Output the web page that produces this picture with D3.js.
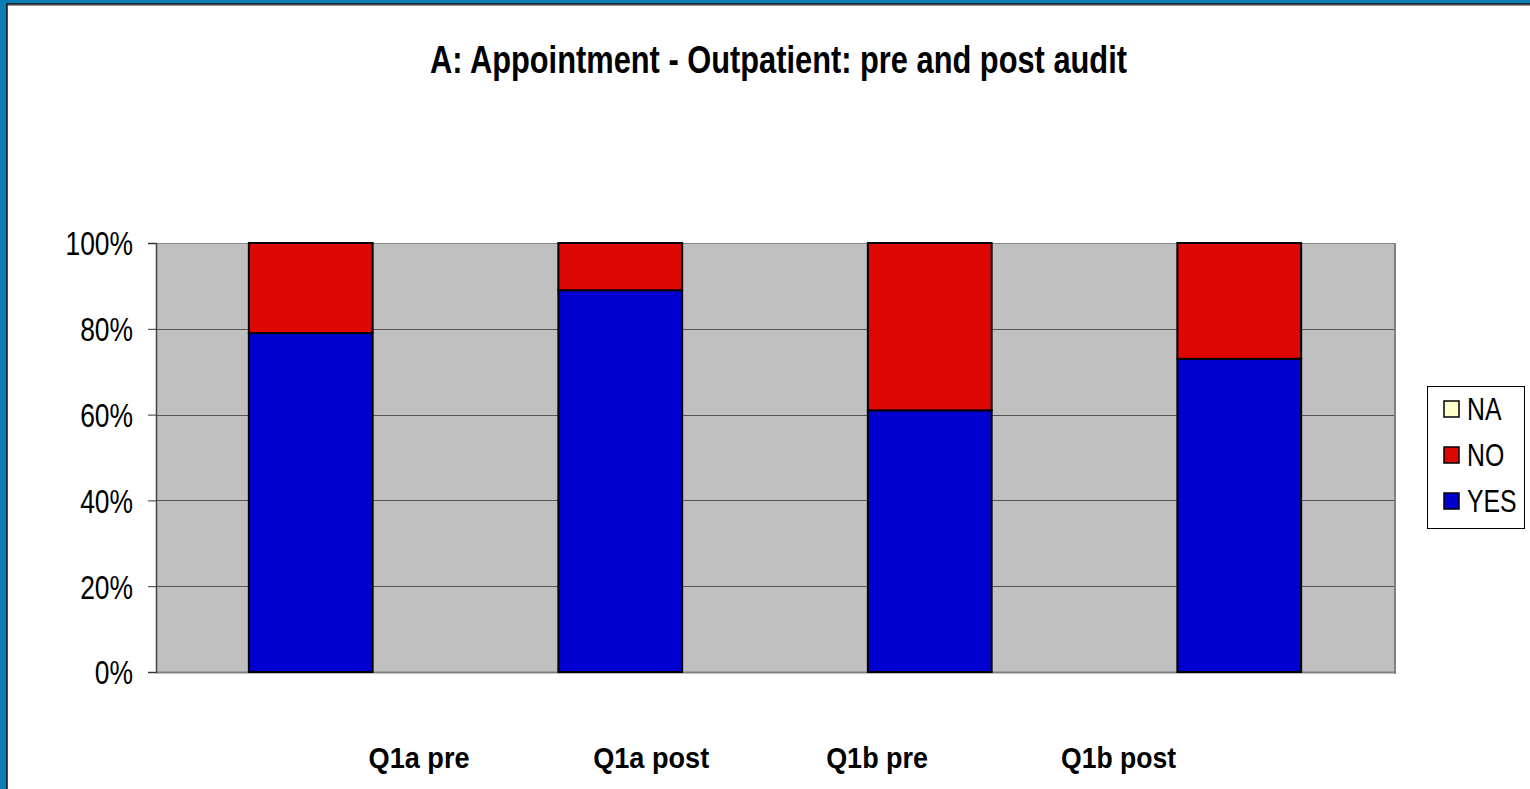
<!DOCTYPE html>
<html>
<head>
<meta charset="utf-8">
<script src="https://cdn.jsdelivr.net/npm/d3@7/dist/d3.min.js"></script>
<style>
    html, body { margin: 0; padding: 0; background: #0e7db2; overflow: hidden; }
    svg { display: block; }
    .narrow { font-family: "Liberation Sans Narrow", "Arial Narrow", "Liberation Sans", Arial, sans-serif; }
</style>
</head>
<body>
<svg id="chart" width="1530" height="789"></svg>
<script>
// chart values
var categories = ["Q1a pre", "Q1a post", "Q1b pre", "Q1b post"];
var seriesNames = ["YES", "NO", "NA"];
var yesValues = [79, 89, 61, 73];
var noValues = [21, 11, 39, 27];
var naValues = [0, 0, 0, 0];
var yTicks = [0, 20, 40, 60, 80, 100];
// x label centres drift left of the bars in the original, offsets in category units
var labelOffsets = [0.35, 0.1, -0.17, -0.39];

var colors = { YES: "#0000d0", NO: "#dd0704", NA: "#ffffcc" };
var squeeze = 0.8; // no narrow face installed, so squash horizontally

var svg = d3.select("#chart");
var width = 1530, height = 789;

// white panel with dark edge
svg.append("rect").attr("x", 0).attr("y", 0).attr("width", width).attr("height", height).attr("fill", "#0e7db2");
svg.append("rect").attr("x", 7).attr("y", 4).attr("width", width).attr("height", height)
    .attr("fill", "#fff").attr("stroke", "#111").attr("stroke-width", 1.5);
svg.append("line").attr("x1", 8).attr("x2", width).attr("y1", 5.5).attr("y2", 5.5)
    .attr("stroke", "#999").attr("stroke-width", 1);

var margin = { left: 156, right: 1394, top: 243, bottom: 672 };

var x = d3.scaleBand().domain(categories).range([margin.left, margin.right]).paddingInner(0.6).paddingOuter(0.3);
var xCat = d3.scaleBand().domain(categories).range([margin.left, margin.right]);
var y = d3.scaleLinear().domain([0, 100]).range([margin.bottom, margin.top]);

// plot background
svg.append("rect")
    .attr("x", margin.left).attr("y", margin.top)
    .attr("width", margin.right - margin.left).attr("height", margin.bottom - margin.top)
    .attr("fill", "#c0c0c0");

// gridlines
svg.append("g").selectAll("line").data(yTicks.slice(1)).enter().append("line")
    .attr("x1", margin.left).attr("x2", margin.right)
    .attr("y1", function (d) { return Math.round(y(d)) + 0.5; })
    .attr("y2", function (d) { return Math.round(y(d)) + 0.5; })
    .attr("stroke", function (d) { return d == 100 ? "#888" : "#555"; })
    .attr("stroke-width", 1);

// plot border shadow, right and bottom
svg.append("line").attr("x1", margin.right + 1).attr("x2", margin.right + 1)
    .attr("y1", margin.top).attr("y2", margin.bottom + 2)
    .attr("stroke", "#808080").attr("stroke-width", 2);
svg.append("line").attr("x1", margin.left).attr("x2", margin.right + 2)
    .attr("y1", margin.bottom + 0.5).attr("y2", margin.bottom + 0.5)
    .attr("stroke", "#808080").attr("stroke-width", 2);

// stacked bars
var table = categories.map(function (c, i) {
    return { cat: c, YES: yesValues[i], NO: noValues[i], NA: naValues[i] };
});
var stacked = d3.stack().keys(seriesNames)(table);

svg.append("g").selectAll("g").data(stacked).enter().append("g")
    .attr("fill", function (s) { return colors[s.key]; })
    .selectAll("rect").data(function (s) { return s.filter(function (d) { return d[1] - d[0] > 0; }); })
    .enter().append("rect")
    .attr("x", function (d) { return x(d.data.cat); })
    .attr("width", x.bandwidth())
    .attr("y", function (d) { return y(d[1]); })
    .attr("height", function (d) { return y(d[0]) - y(d[1]); })
    .attr("stroke", "#000")
    .attr("stroke-width", 2);

// y axis
var yAxis = d3.axisLeft(y).tickValues(yTicks).tickSize(8).tickPadding(15)
    .tickFormat(function (d) { return d + "%"; });
var yg = svg.append("g").attr("transform", "translate(" + margin.left + ",0)").call(yAxis);
yg.select(".domain").attr("stroke", "#444").attr("stroke-width", 1.5);
yg.selectAll(".tick line").attr("stroke", "#333");
yg.selectAll(".tick text").attr("class", "narrow").attr("font-size", 33).attr("fill", "#000")
    .attr("x", -23 / squeeze)
    .attr("dy", "0.36em")
    .attr("transform", "scale(" + squeeze + ",1)");

// x labels
var xLabelWidths = [101, 116, 102, 115];
svg.append("g").selectAll("text").data(categories).enter().append("text")
    .attr("class", "narrow")
    .attr("x", function (d, i) { return xCat(d) + xCat.bandwidth() * (0.5 + labelOffsets[i]) - xLabelWidths[i] / 2; })
    .attr("y", 768)
    .attr("font-size", 30).attr("font-weight", "bold").attr("fill", "#000")
    .attr("textLength", function (d, i) { return xLabelWidths[i]; })
    .attr("lengthAdjust", "spacingAndGlyphs")
    .text(function (d) { return d; });

// title
svg.append("text").attr("class", "narrow")
    .attr("x", 430).attr("y", 73)
    .attr("font-size", 38).attr("font-weight", "bold").attr("fill", "#000")
    .attr("textLength", 697).attr("lengthAdjust", "spacingAndGlyphs")
    .text("A: Appointment - Outpatient: pre and post audit");

// legend
var legend = svg.append("g");
legend.append("rect").attr("x", 1427.5).attr("y", 386.5).attr("width", 97).attr("height", 142)
    .attr("fill", "#fff").attr("stroke", "#000").attr("stroke-width", 1);
var legendItems = seriesNames.slice().reverse();
var li = legend.selectAll("g.item").data(legendItems).enter().append("g").attr("class", "item")
    .attr("transform", function (d, i) { return "translate(1444," + (408 + i * 46) + ")"; });
li.append("rect").attr("x", 0).attr("y", -7).attr("width", 15).attr("height", 16)
    .attr("fill", function (d) { return colors[d]; })
    .attr("stroke", "#000").attr("stroke-width", 1.5);
li.append("text").attr("class", "narrow")
    .attr("x", 23 / squeeze).attr("y", 1).attr("dy", "0.36em")
    .attr("font-size", 31).attr("fill", "#000")
    .attr("transform", "scale(" + squeeze + ",1)")
    .text(function (d) { return d; });
</script>
</body>
</html>
